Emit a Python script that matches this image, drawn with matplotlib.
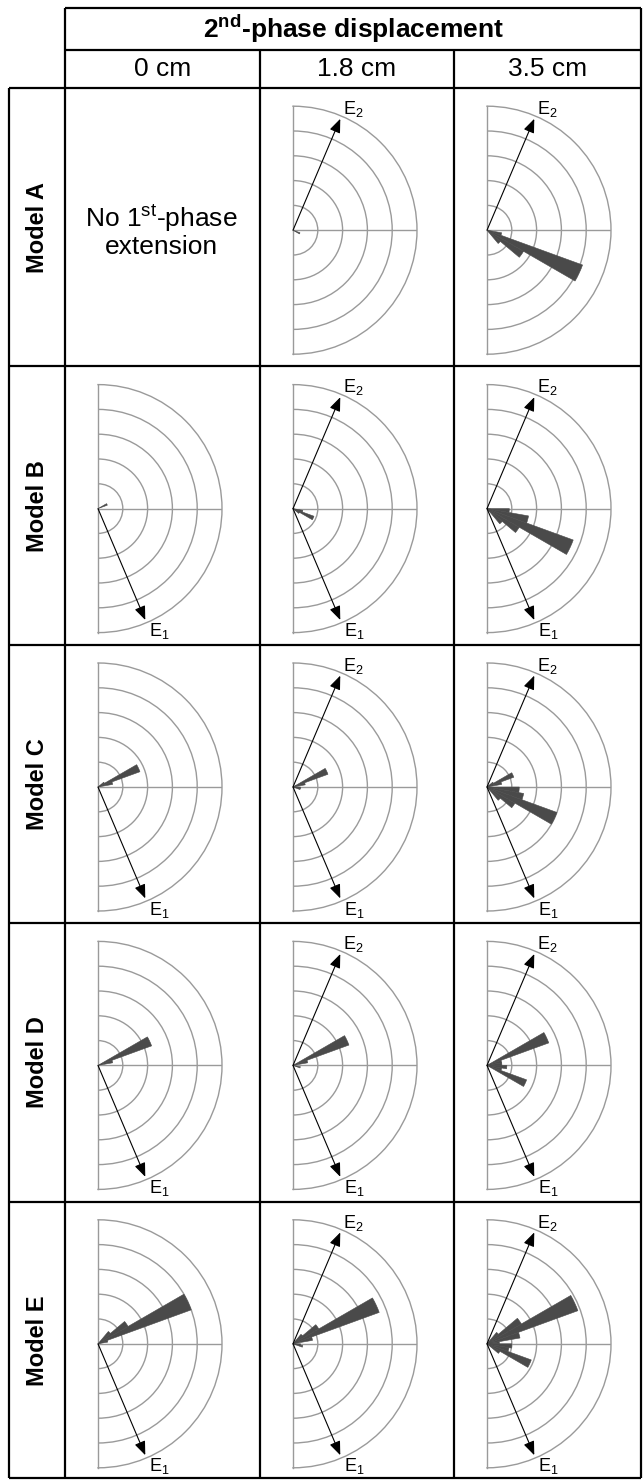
import numpy as np
import matplotlib.pyplot as plt

plt.rcParams['font.family'] = ['Liberation Sans', 'DejaVu Sans']
plt.rcParams['mathtext.fontset'] = 'custom'
plt.rcParams['mathtext.rm'] = 'Liberation Sans'
plt.rcParams['mathtext.bf'] = 'Liberation Sans:bold'

W, H = 643, 1480

displacements = ['0 cm', '1.8 cm', '3.5 cm']
models = ['Model A', 'Model B', 'Model C', 'Model D', 'Model E']

# petal lengths (ring units) keyed by bin centre azimuth, deg clockwise from N
model_a = [None,
           {115: 0.3},
           {105: 0.6, 115: 4.1, 125: 1.7, 135: 0.7}]
model_b = [{65: 0.4},
           {105: 0.4, 115: 0.9, 125: 0.3},
           {95: 0.9, 105: 1.7, 115: 3.7, 125: 1.5, 135: 0.8}]
model_c = [{55: 0.3, 65: 1.8, 75: 0.6},
           {65: 1.5, 75: 0.5, 95: 0.3, 105: 0.3},
           {55: 0.3, 65: 1.15, 75: 0.6, 95: 1.3, 105: 1.5, 115: 3.0, 125: 1.3, 135: 0.7}]
model_d = [{65: 2.3, 75: 0.6},
           {65: 2.4, 75: 0.6, 105: 0.3},
           {65: 2.65, 75: 0.6, 85: 0.6, 95: 0.8, 105: 0.6, 115: 1.7}]
model_e = [{45: 0.65, 55: 1.4, 65: 4.0, 75: 0.4},
           {45: 0.5, 55: 1.2, 65: 3.7, 75: 0.8, 95: 0.3, 105: 0.4},
           {45: 0.6, 55: 1.6, 65: 3.9, 75: 1.35, 85: 0.5, 95: 1.0, 105: 0.9, 115: 1.9, 125: 0.6}]
roses = [model_a, model_b, model_c, model_d, model_e]

e1_azimuth = 157   # first-phase extension direction
e2_azimuth = 23    # second-phase extension direction

col_edges = [65, 260, 454, 641]
row_edges = np.linspace(88, 1480, 6)
R = 124
ring_color = '#9a9a9a'
petal_color = '#4a4a4a'

fig = plt.figure(figsize=(W / 100, H / 100), dpi=100)
bg = fig.add_axes([0, 0, 1, 1])
bg.set_xlim(0, W)
bg.set_ylim(H, 0)
bg.axis('off')

lw_tab = 1.6
# table frame
bg.hlines([8, 50], 65, 641, color='black', lw=lw_tab)
bg.hlines(list(row_edges[:-1]) + [1478], 9, 641, color='black', lw=lw_tab)
bg.vlines([65, 641], 8, 1478, color='black', lw=lw_tab)
bg.vlines(col_edges[1:3], 50, 1478, color='black', lw=lw_tab)
bg.vlines(9, 88, 1478, color='black', lw=lw_tab)

bg.text(353, 29, r'2$^{\mathregular{nd}}$-phase displacement', ha='center', va='center',
        fontsize=19, fontweight='bold')
for j, lab in enumerate(displacements):
    bg.text((col_edges[j] + col_edges[j + 1]) / 2, 69, lab, ha='center', va='center', fontsize=19)
for i, lab in enumerate(models):
    bg.text(37, (row_edges[i] + row_edges[i + 1]) / 2, lab, ha='center', va='center',
            rotation=90, fontsize=17, fontweight='bold')

bg.text(161, 231, 'No 1$^{\\mathregular{st}}$-phase\nextension', ha='center', va='center',
        fontsize=19, linespacing=1.05)


def arrow(ax, az, label, dx, dy):
    th = np.deg2rad(az)
    ax.annotate('', xy=(th, 4.88), xytext=(0, 0),
                arrowprops=dict(arrowstyle='-|>,head_length=0.7,head_width=0.28',
                                color='black', lw=0.8, shrinkA=0, shrinkB=0,
                                mutation_scale=12), zorder=5, annotation_clip=False)
    ax.annotate(label, xy=(th, 4.88), xytext=(dx, dy), textcoords='offset points',
                ha='left', va='center', fontsize=13, annotation_clip=False, zorder=5)


for i in range(len(models)):
    yc = (row_edges[i] + row_edges[i + 1]) / 2 + 3
    for j in range(len(displacements)):
        petals = roses[i][j]
        if petals is None:
            continue
        xc = col_edges[j] + 33
        # polar axes keep a square box; the half disc sits centred in it
        ax = fig.add_axes([(xc - R / 2) / W, 1 - (yc + R) / H, 2 * R / W, 2 * R / H],
                          projection='polar')
        ax.set_theta_zero_location('N')
        ax.set_theta_direction(-1)
        ax.set_thetamin(0)
        ax.set_thetamax(180)
        ax.set_rlim(0, 5)
        ax.set_rticks([1, 2, 3, 4])
        ax.set_yticklabels([])
        ax.set_thetagrids([90], labels=[''])
        ax.tick_params(length=0)
        ax.grid(color=ring_color, lw=1.0)
        for s in ax.spines.values():
            s.set_color(ring_color)
            s.set_linewidth(1.0)
        ax.patch.set_alpha(0)

        az = np.deg2rad(list(petals.keys()))
        ax.bar(az, list(petals.values()), width=np.deg2rad(10), bottom=0,
               color=petal_color, edgecolor=petal_color, lw=0.4, zorder=3)

        if j > 0:
            arrow(ax, e2_azimuth, r'E$_{\mathregular{2}}$', 2, 7)
        if i > 0:
            arrow(ax, e1_azimuth, r'E$_{\mathregular{1}}$', 3, -8)

fig.savefig('out.png', dpi=100)
